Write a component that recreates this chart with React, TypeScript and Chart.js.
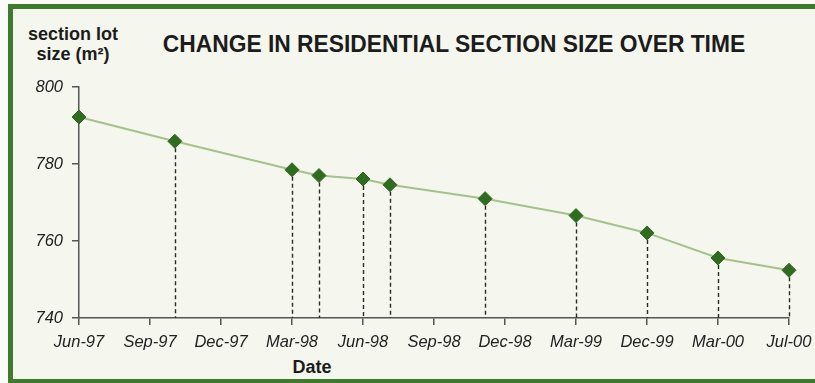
import React, { useEffect, useRef } from "react";
import { Chart, registerables } from "chart.js";

Chart.register(...registerables);

const tickLabels = ["Jun-97", "Sep-97", "Dec-97", "Mar-98", "Jun-98", "Sep-98", "Dec-98", "Mar-99", "Dec-99", "Mar-00", "Jul-00"];
const pointPositions = [0, 1.35, 3, 3.38, 4, 4.38, 5.72, 7, 8, 9, 10];
const lotSizes = [792.2, 785.9, 778.5, 777.0, 776.1, 774.6, 771.0, 766.6, 762.1, 755.6, 752.4];
const yMin = 740;
const yMax = 800;
const yStep = 20;

const FONT = "'Liberation Sans', Arial, Helvetica, sans-serif";

export default function App() {
  const ref = useRef<HTMLCanvasElement>(null);

  useEffect(() => {
    document.body.style.margin = "0";
    const canvas = ref.current!;
    const dropLines = {
      id: "dropLines",
      beforeDatasetsDraw(chart: any) {
        const meta = chart.getDatasetMeta(0);
        const { ctx, chartArea } = chart;
        ctx.save();
        ctx.strokeStyle = "#2a2a2a";
        ctx.lineWidth = 1.4;
        ctx.setLineDash([4, 3]);
        meta.data.forEach((pt: any, i: number) => {
          if (pointPositions[i] <= 0) return;
          const x = Math.round(pt.x) + 0.5;
          ctx.beginPath();
          ctx.moveTo(x, pt.y);
          ctx.lineTo(x, chartArea.bottom);
          ctx.stroke();
        });
        ctx.restore();
      },
    };

    const chart = new Chart(canvas, {
      type: "line",
      data: {
        datasets: [
          {
            data: pointPositions.map((x, i) => ({ x, y: lotSizes[i] })),
            borderColor: "#a6c18c",
            borderWidth: 2,
            tension: 0,
            pointStyle: "rectRot",
            pointRadius: 7,
            pointBackgroundColor: "#2f6c1f",
            pointBorderColor: "#2f6c1f",
            pointBorderWidth: 1,
            clip: false as any,
          },
        ],
      },
      plugins: [dropLines],
      options: {
        responsive: false,
        animation: false,
        devicePixelRatio: 1,
        layout: { padding: { left: 0, top: 87, right: 26, bottom: 25 } },
        plugins: { legend: { display: false }, tooltip: { enabled: false }, title: { display: false } },
        scales: {
          x: {
            type: "linear",
            min: 0,
            max: tickLabels.length - 1,
            ticks: {
              stepSize: 1,
              autoSkip: false,
              maxRotation: 0,
              padding: 8,
              color: "#222",
              font: { family: FONT, size: 16.5, style: "italic" },
              callback: (v: any) => tickLabels[Math.round(Number(v))] ?? "",
            },
            grid: { drawOnChartArea: false, drawTicks: true, tickLength: 7, color: "#555", lineWidth: 1.5 },
            border: { display: true, color: "#555", width: 1.5 },
            afterFit: (s: any) => {
              s.height = 40;
              s.paddingLeft = 0;
              s.paddingRight = 0;
            },
          },
          y: {
            type: "linear",
            min: yMin,
            max: yMax,
            ticks: {
              stepSize: yStep,
              padding: 9,
              color: "#222",
              font: { family: FONT, size: 16.5, style: "italic" },
            },
            grid: { drawOnChartArea: false, drawTicks: true, tickLength: 7, color: "#555", lineWidth: 1.5 },
            border: { display: true, color: "#555", width: 1.5 },
            afterFit: (s: any) => {
              s.width = 79;
            },
          },
        },
      },
    } as any);
    return () => chart.destroy();
  }, []);

  return (
    <div style={{ position: "relative", width: 815, height: 383, overflow: "hidden", background: "#fbfcf8" }}>
      <div
        style={{
          position: "absolute",
          left: 8,
          top: 4,
          width: 900,
          height: 370,
          border: "5px solid #3f7b2c",
          background: "#f5f6ee",
        }}
      />
      <div
        style={{
          position: "absolute",
          left: 0,
          top: 32,
          width: 908,
          textAlign: "center",
          fontFamily: FONT,
          fontWeight: "bold",
          fontSize: 24,
          lineHeight: 1,
          color: "#1c1c1c",
          transform: "scaleX(0.95)",
          whiteSpace: "nowrap",
        }}
      >
        CHANGE IN RESIDENTIAL SECTION SIZE OVER TIME
      </div>
      <div
        style={{
          position: "absolute",
          left: 13,
          top: 24,
          width: 120,
          textAlign: "center",
          fontFamily: FONT,
          fontWeight: "bold",
          fontSize: 18,
          lineHeight: "20px",
          color: "#1c1c1c",
          whiteSpace: "nowrap",
        }}
      >
        <div>section lot</div>
        <div>size (m²)</div>
      </div>
      <div
        style={{
          position: "absolute",
          left: 262,
          top: 358,
          width: 100,
          textAlign: "center",
          fontFamily: FONT,
          fontWeight: "bold",
          fontSize: 18,
          lineHeight: 1,
          color: "#1c1c1c",
        }}
      >
        Date
      </div>
      <canvas ref={ref} width={815} height={383} style={{ position: "absolute", left: 0, top: 0, width: 815, height: 383 }} />
    </div>
  );
}
